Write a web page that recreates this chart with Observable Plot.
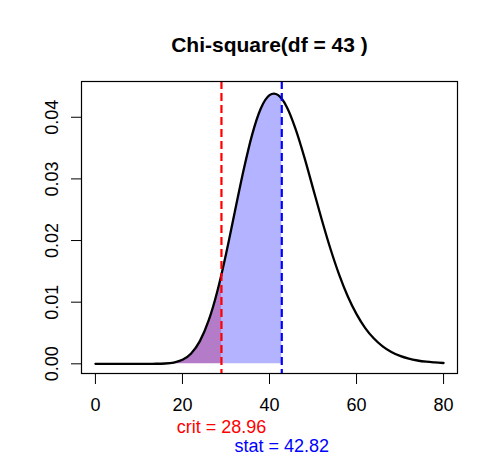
<!DOCTYPE html>
<html>
<head>
<meta charset="utf-8">
<script src="https://cdn.jsdelivr.net/npm/d3@7"></script>
<script src="https://cdn.jsdelivr.net/npm/@observablehq/plot@0.6"></script>
<style>
  html, body { margin: 0; padding: 0; background: #fff; }
  svg { display: block; }
</style>
</head>
<body>
<div id="chart"></div>
<script>
const title = "Chi-square(df = 43 )";
const crit = 28.96;
const stat = 42.82;
const xTicks = [0, 20, 40, 60, 80];
const yTicks = [0, 0.01, 0.02, 0.03, 0.04];
const yTickLabels = ["0.00", "0.01", "0.02", "0.03", "0.04"];
const xs = [0,2,4,6,8,10,12,14,16,18,20,22,24,26,28,28.96,30,32,34,36,38,40,41,42,42.82,44,46,48,50,52,54,56,58,60,62,64,66,68,70,72,74,76,78,80];
const dens = [0,0,0,0,0,0.0000001,0.000001,0.0000087,0.0000494,0.000203,0.000648,0.00168,0.00368,0.00699,0.01174,0.0145,0.01777,0.02455,0.03128,0.03715,0.04142,0.04358,0.04384,0.04358,0.04299,0.04163,0.03808,0.03354,0.02847,0.02342,0.01867,0.01448,0.01093,0.00806,0.0058,0.0041,0.00283,0.00192,0.00128,0.00084,0.00054,0.00034,0.00022,0.00013];

const data = xs.map((x, i) => ({x, y: dens[i]}));
const leftPart = data.filter(d => d.x <= crit);
const midPart = data.filter(d => d.x >= crit && d.x <= stat);
const font = "'Liberation Sans', Arial, Helvetica, sans-serif";
const fs = 18;

const chart = Plot.plot({
  width: 498,
  height: 476,
  marginLeft: 81,
  marginRight: 41,
  marginTop: 81,
  marginBottom: 103,
  style: {fontFamily: font, fontSize: fs + "px", background: "#fff", color: "#000"},
  x: {domain: [-3.2, 83.2]},
  y: {domain: [-0.00157, 0.0458]},
  marks: [
    Plot.areaY(midPart, {x: "x", y: "y", fill: "#B3B3FF", curve: "monotone-x"}),
    Plot.areaY(leftPart, {x: "x", y: "y", fill: "#B47CC8", curve: "monotone-x"}),
    Plot.line(data, {x: "x", y: "y", stroke: "#000", strokeWidth: 2.3, curve: "monotone-x"}),
    Plot.ruleX([crit], {stroke: "#FF0000", strokeWidth: 2.2, strokeDasharray: "8,4"}),
    Plot.ruleX([stat], {stroke: "#0000FF", strokeWidth: 2.2, strokeDasharray: "8,4"}),
    Plot.frame({stroke: "#000", strokeWidth: 1.2}),
    Plot.axisX({ticks: xTicks, tickSize: 11, tickPadding: 13.5, fontSize: fs, label: null, tickFormat: d => String(d)}),
    Plot.axisY({ticks: yTicks, tickSize: 10, tickFormat: () => "", label: null}),
    Plot.text(yTicks, {y: d => d, text: (d, i) => yTickLabels[i], frameAnchor: "left", dx: -29, rotate: -90, textAnchor: "middle", lineAnchor: "middle", fontSize: fs, fill: "#000"}),
    Plot.text([crit], {x: d => d, text: d => "crit = " + d.toFixed(2), frameAnchor: "bottom", dy: 54, lineAnchor: "middle", fill: "#FF0000", fontSize: fs}),
    Plot.text([stat], {x: d => d, text: d => "stat = " + d.toFixed(2), frameAnchor: "bottom", dy: 73, lineAnchor: "middle", fill: "#0000FF", fontSize: fs}),
    Plot.text([title], {text: d => d, frameAnchor: "top", dy: -36, lineAnchor: "middle", fontWeight: "bold", fontSize: 21, fill: "#000"})
  ]
});
document.getElementById("chart").appendChild(chart);
</script>
</body>
</html>
